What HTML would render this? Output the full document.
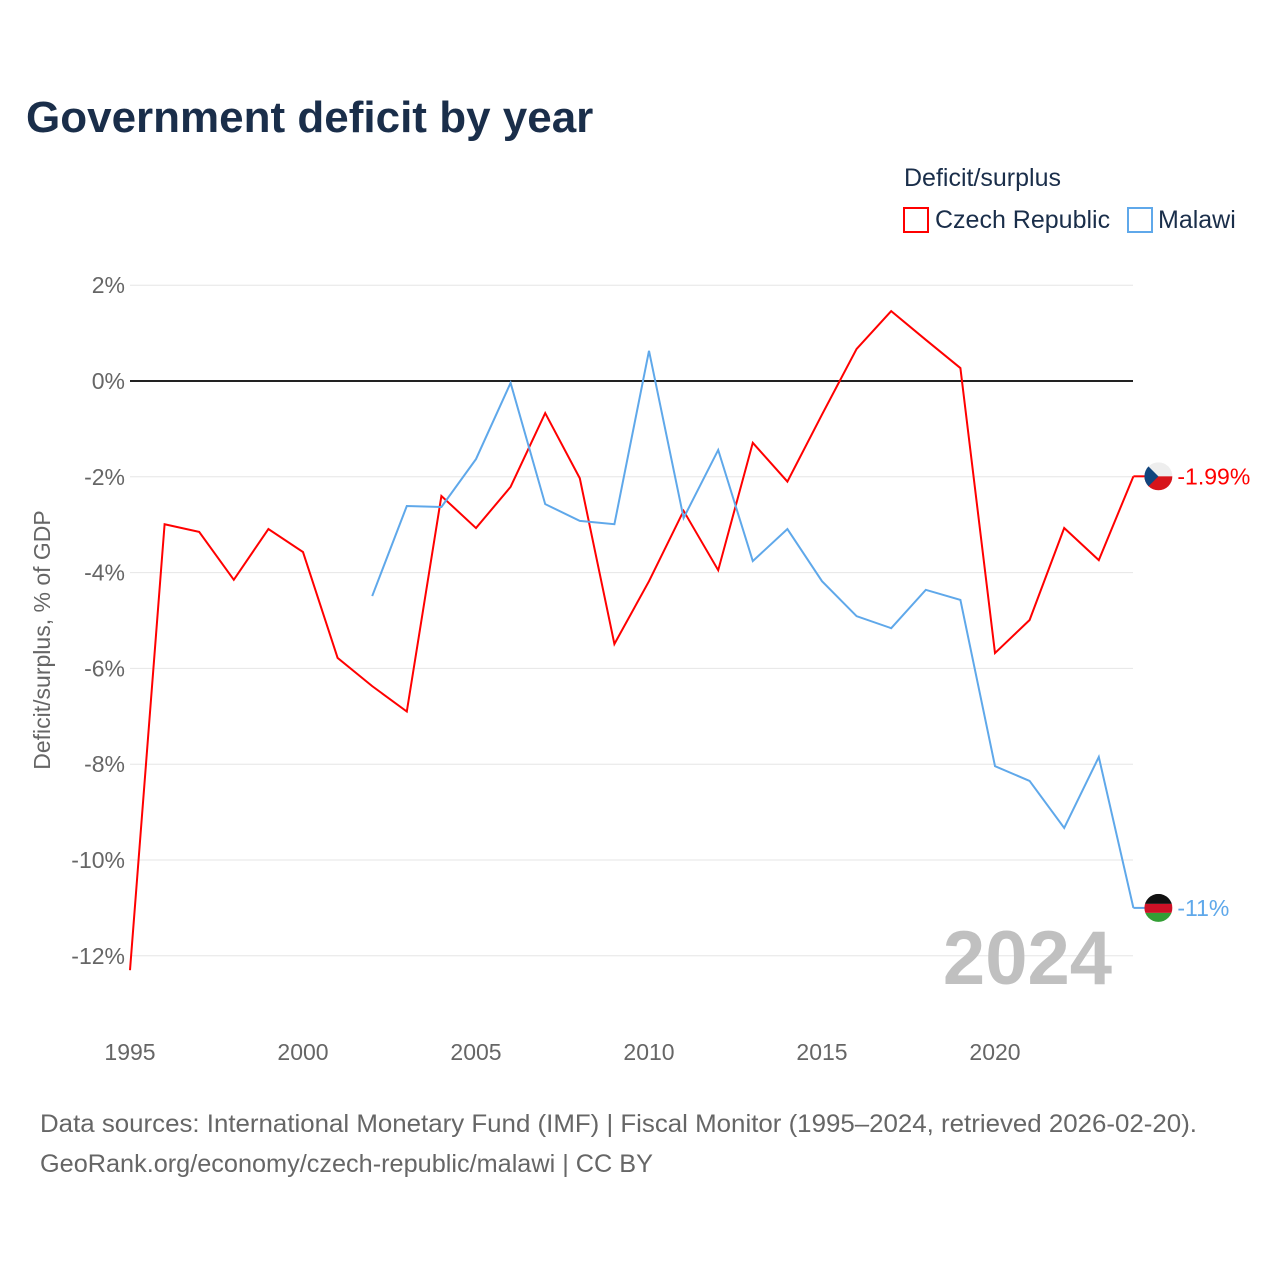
<!DOCTYPE html>
<html><head><meta charset="utf-8"><style>
body{margin:0;background:#fff;font-family:"Liberation Sans",sans-serif;}
#wrap{position:relative;width:1280px;height:1280px;overflow:hidden;}
</style></head><body>
<div id="wrap">
<svg id="chart" width="1280" height="1280" xmlns="http://www.w3.org/2000/svg">
<text x="26" y="132" font-size="44" font-weight="bold" fill="#1a2e4a">Government deficit by year</text>
<text x="904" y="186" font-size="25" fill="#1a2e4a">Deficit/surplus</text>
<g><rect x="904" y="208" width="24" height="24" fill="none" stroke="#ff0000" stroke-width="2"/><text x="935" y="228" font-size="25" fill="#1a2e4a">Czech Republic</text></g>
<g><rect x="1128" y="208" width="24" height="24" fill="none" stroke="#5fa8ea" stroke-width="2"/><text x="1158" y="228" font-size="25" fill="#1a2e4a">Malawi</text></g>
<g id="grid"></g><g id="yt"></g><g id="xt"></g><g id="lines"></g>
<text transform="translate(50,640) rotate(-90)" text-anchor="middle" font-size="23" fill="#666">Deficit/surplus, % of GDP</text>
<text x="1112" y="984" text-anchor="end" font-size="76" font-weight="bold" fill="#c0c0c0">2024</text>
<text x="40" y="1132" font-size="25" fill="#666" textLength="1157" lengthAdjust="spacingAndGlyphs">Data sources: International Monetary Fund (IMF) | Fiscal Monitor (1995–2024, retrieved 2026-02-20).</text>
<text x="40" y="1172" font-size="25" fill="#666" textLength="613" lengthAdjust="spacingAndGlyphs">GeoRank.org/economy/czech-republic/malawi | CC BY</text>
</svg></div>
<script>
const years=[1995,1996,1997,1998,1999,2000,2001,2002,2003,2004,2005,2006,2007,2008,2009,2010,2011,2012,2013,2014,2015,2016,2017,2018,2019,2020,2021,2022,2023,2024];
const czech=[-12.3,-2.99,-3.15,-4.15,-3.09,-3.57,-5.78,-6.37,-6.9,-2.4,-3.07,-2.21,-0.67,-2.03,-5.49,-4.18,-2.71,-3.95,-1.29,-2.1,-0.7,0.67,1.46,0.86,0.27,-5.68,-4.99,-3.07,-3.74,-1.99];
const malawi=[null,null,null,null,null,null,null,-4.49,-2.61,-2.63,-1.63,-0.04,-2.57,-2.92,-2.99,0.63,-2.86,-1.44,-3.76,-3.09,-4.18,-4.91,-5.16,-4.36,-4.57,-8.04,-8.35,-9.33,-7.85,-11.0];
const yTicks=[2,0,-2,-4,-6,-8,-10,-12];
const xTicks=[1995,2000,2005,2010,2015,2020];
const NS="http://www.w3.org/2000/svg";
const x=v=>130+(v-1995)*34.6;
const y=v=>381-v*47.9;
function mk(t,a,p){const e=document.createElementNS(NS,t);for(const k in a)e.setAttribute(k,a[k]);document.getElementById(p).appendChild(e);return e;}
yTicks.forEach(t=>{
 const l=mk('line',{x1:130,x2:1133,y1:y(t),y2:y(t),stroke:t===0?'#222':'#e6e6e6','stroke-width':t===0?2:1},'grid');
 
 
 const s=mk('text',{x:125,y:y(t)+8,'text-anchor':'end','font-size':23,fill:'#666'},'yt');
 s.textContent=t+'%';
 
 
});
xTicks.forEach(t=>{
 const s=mk('text',{x:x(t),y:1060,'text-anchor':'middle','font-size':23,fill:'#666'},'xt');
 s.textContent=t;
 
 
});
function line(d,c,n){
 let p='';d.forEach((v,i)=>{if(v===null)return;p+=(p?'L':'M')+x(years[i])+','+y(v);});
 const e=mk('path',{d:p,fill:'none',stroke:c,'stroke-width':2},'lines');
 
 
}
line(czech,'#ff0000','czech-line');
line(malawi,'#5fa8ea','malawi-line');
function endLabel(v,c,txt,n,cz){
 const X=x(2024),Y=y(v);
 mk('line',{x1:X,x2:X+12,y1:Y,y2:Y,stroke:c,'stroke-width':2},'lines');
 const g=mk('g',{},'lines');
 
 
 const cx=X+25;
 if(cz){
  g.innerHTML=`<clipPath id="cc"><circle cx="${cx}" cy="${Y}" r="14"/></clipPath><g clip-path="url(#cc)"><rect x="${cx-14}" y="${Y-14}" width="28" height="14" fill="#eee"/><rect x="${cx-14}" y="${Y}" width="28" height="14" fill="#d7141a"/><path d="M${cx-14},${Y-14}L${cx},${Y}L${cx-14},${Y+14}Z" fill="#11457e"/></g>`;
 }else{
  g.innerHTML=`<clipPath id="cm"><circle cx="${cx}" cy="${Y}" r="14"/></clipPath><g clip-path="url(#cm)"><rect x="${cx-14}" y="${Y-14}" width="28" height="10" fill="#111"/><rect x="${cx-14}" y="${Y-4}" width="28" height="9" fill="#ce1126"/><rect x="${cx-14}" y="${Y+5}" width="28" height="10" fill="#339e35"/></g>`;
 }
 const t=mk('text',{x:X+44,y:Y+8,'font-size':23,fill:c},'lines');
 t.textContent=txt;
 
 
}
endLabel(czech[czech.length-1],'#ff0000',czech[czech.length-1]+'%','czech',true);
endLabel(malawi[malawi.length-1],'#5fa8ea',Math.round(malawi[malawi.length-1])+'%','malawi',false);
</script>
</body></html>
